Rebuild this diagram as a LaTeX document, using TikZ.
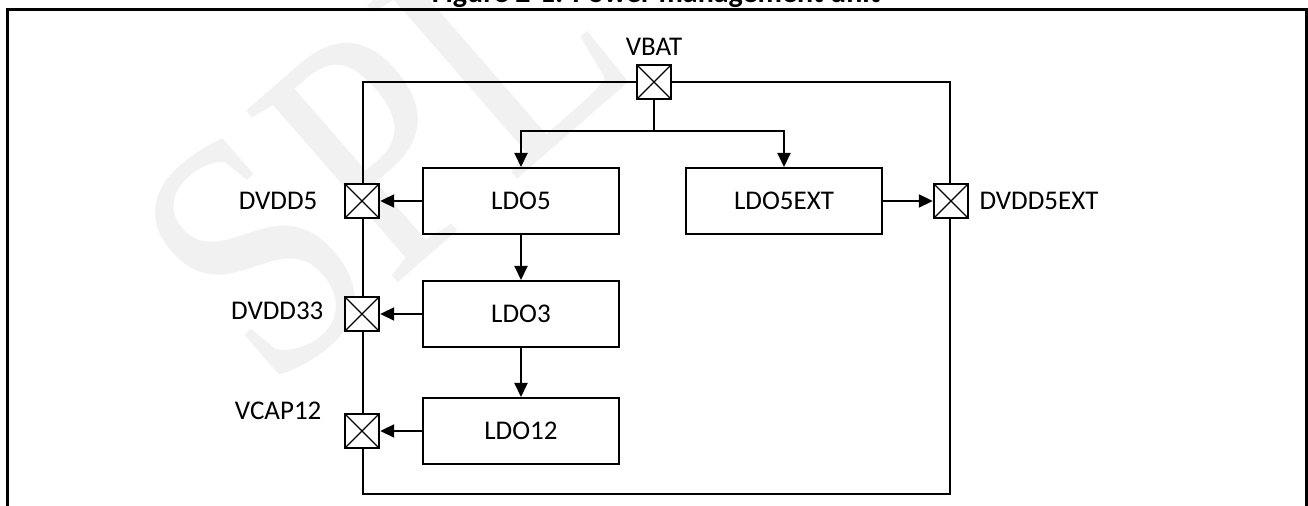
\documentclass[tikz,border=0pt]{standalone}
\usepackage{tikz}
\usetikzlibrary{positioning,arrows.meta}
\usepackage{fontspec}
\setmainfont{Carlito}
\newfontfamily\wmfont{Liberation Serif}

\begin{document}
\begin{tikzpicture}[x=0.5pt,y=-0.5pt,>={Triangle[length=7pt,width=6.5pt]},
		wire/.style={line width=1pt},
		ldo/.style={draw,line width=1pt,minimum width=98pt,minimum height=33pt,%
			font=\fontsize{13.5}{16}\selectfont},
		pad/.style={draw,fill=white,line width=1.2pt,minimum size=17pt,inner sep=0pt,%
			path picture={\draw[line width=0.6pt]
				(path picture bounding box.south west)--(path picture bounding box.north east)
				(path picture bounding box.north west)--(path picture bounding box.south east);}},
		padlbl/.style={inner sep=0pt,font=\fontsize{13.5}{16}\selectfont}]
	\useasboundingbox (0,0) rectangle (1308,506);
	% watermark
	\node[rotate=41,inner sep=0pt,text=gray!11,font=\wmfont\fontsize{175}{175}\selectfont] (wm) at (382,146) {\scalebox{0.82}[1]{SPL}};
	% title and frame
	\node[anchor=base,font=\bfseries\fontsize{15}{18}\selectfont] (title) at (656,3) {Figure 2-1: Power management unit};
	\draw[line width=1.5pt] (7,530) -- (7,10) -- (1306,10) -- (1306,530);
	% chip
	\node[draw,line width=1pt,minimum width=293.5pt,minimum height=206pt] (pmu) at (656.5,288.5) {};
	\node[ldo] (ldo5) at (521,201) {LDO5};
	\node[ldo,below=22.5pt of ldo5] (ldo3) {LDO3};
	\node[ldo,below=24.5pt of ldo3] (ldo12) {LDO12};
	\node[ldo,right=32.5pt of ldo5] (ldo5ext) {LDO5EXT};
	% pads
	\node[pad] (vbat) at (654,82) {};
	\node[pad] (dvdd5) at (pmu.west |- ldo5) {};
	\node[pad] (dvdd33) at (pmu.west |- ldo3) {};
	\node[pad] (vcap12) at (pmu.west |- ldo12) {};
	\node[pad] (dvdd5ext) at (pmu.east |- ldo5ext) {};
	\node[padlbl,above=4pt of vbat] (vbatlbl) {VBAT};
	\node[padlbl,left=13pt of dvdd5] (dvdd5lbl) {DVDD5};
	\node[padlbl,left=10pt of dvdd33,yshift=1.5pt] (dvdd33lbl) {DVDD33};
	\node[padlbl,left=11pt of vcap12.north west,yshift=1pt] (vcap12lbl) {VCAP12};
	\node[padlbl,right=5pt of dvdd5ext] (dvdd5extlbl) {DVDD5EXT};
	% connections
	\coordinate (split) at (654,131);
	\draw[wire] (vbat.south) -- (split);
	\draw[wire,->] (split) -| (ldo5.north);
	\draw[wire,->] (split) -| (ldo5ext.north);
	\draw[wire,->] (ldo5.west) -- (dvdd5.east);
	\draw[wire,->] (ldo3.west) -- (dvdd33.east);
	\draw[wire,->] (ldo12.west) -- (vcap12.east);
	\draw[wire,->] (ldo5.south) -- (ldo3.north);
	\draw[wire,->] (ldo3.south) -- (ldo12.north);
	\draw[wire,->] (ldo5ext.east) -- (dvdd5ext.west);
\end{tikzpicture}
\end{document}
